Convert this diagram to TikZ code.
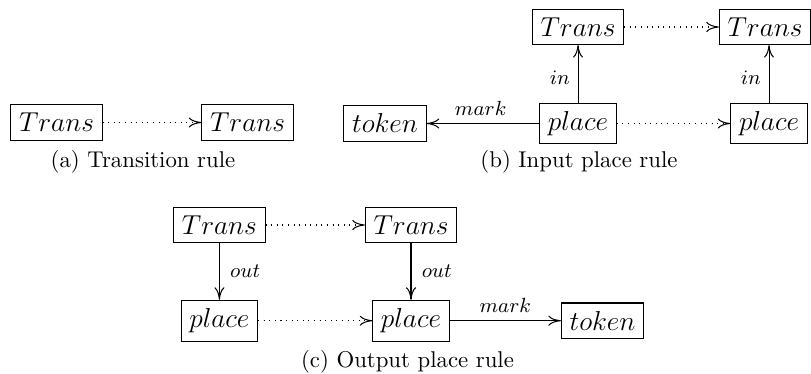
\documentclass[tikz,border=0pt]{standalone}
\usetikzlibrary{arrows.meta}
\begin{document}
\begin{tikzpicture}[x=0.4386pt,y=-0.4386pt,
  tip/.tip={To[length=5.5pt,width=4.4pt]},
  obj/.style={draw, line width=0.45pt, inner sep=3.6pt, font=\fontsize{12}{14}\selectfont},
  rel/.style={-tip, line width=0.45pt},
  morph/.style={-tip, dotted, line width=0.45pt},
  lbl/.style={font=\fontsize{8.6}{10}\selectfont},
  captext/.style={anchor=base, font=\fontsize{10}{12}\selectfont}]
\useasboundingbox (0,0) rectangle (811,374);

% (a) transition rule
\node[obj] (a1) at (56.5,122.5) {$Trans$};
\node[obj] (a2) at (247.5,122.5) {$Trans$};
\draw[morph] (a1) -- (a2);
\node[captext] (capa) at (143,168) {(a) Transition rule};

% (b) input place rule
\node[obj] (bt1) at (578,27) {$Trans$};
\node[obj] (bt2) at (765,27) {$Trans$};
\node[obj] (bk)  at (385,123.5) {$token$};
\node[obj] (bp1) at (578,123.5) {$place$};
\node[obj] (bp2) at (769,123.5) {$place$};
\draw[morph] (bt1) -- (bt2);
\draw[morph] (bp1) -- (bp2);
\draw[rel] (bp1.north) -- node[lbl,left,yshift=-1.5pt] {$in$} (bp1.north |- bt1.south);
\draw[rel] (bp2.north) -- node[lbl,left,yshift=-1.5pt] {$in$} (bp2.north |- bt2.south);
\draw[rel] (bp1.west) -- node[lbl,above,xshift=-1pt] {$mark$} (bp1.west -| bk.east);
\node[captext] (capb) at (579,168) {(b) Input place rule};

% (c) output place rule
\node[obj] (ct1) at (219.4,225) {$Trans$};
\node[obj] (ct2) at (411,225) {$Trans$};
\node[obj] (cp1) at (219.4,320.7) {$place$};
\node[obj] (cp2) at (411,320.7) {$place$};
\node[obj] (ck)  at (602.5,320.7) {$token$};
\draw[morph] (ct1) -- (ct2);
\draw[morph] (cp1) -- (cp2);
\draw[rel] (ct1.south) -- node[lbl,right,inner sep=4.5pt] {$out$} (ct1.south |- cp1.north);
\draw[rel] (ct2.south) -- node[lbl,right,inner sep=4.5pt] {$out$} (ct2.south |- cp2.north);
\draw[rel] (cp2.east) -- node[lbl,above] {$mark$} (cp2.east -| ck.west);
\node[captext] (capc) at (407.5,367) {(c) Output place rule};
\end{tikzpicture}
\end{document}
